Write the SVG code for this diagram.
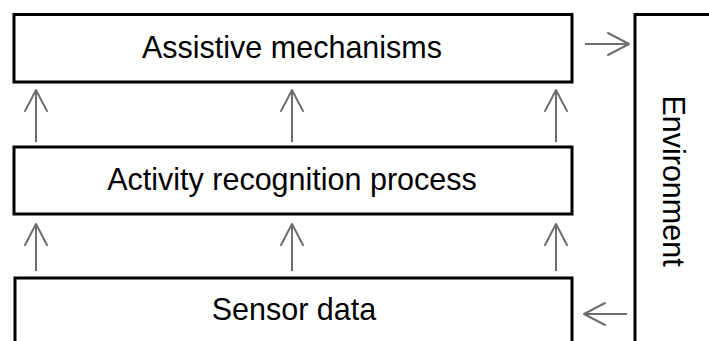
<svg xmlns="http://www.w3.org/2000/svg" width="709" height="341" viewBox="0 0 709 341">
<style>
.box{fill:#fff;stroke:#000;stroke-width:3}
.lbl{font-family:"Liberation Sans",Arial,sans-serif;font-size:30.5px;fill:#000;text-anchor:middle}
.arr{stroke:#6e6e6e;stroke-width:2;fill:none;marker-end:url(#ah)}
</style>
<defs>
<marker id="ah" markerUnits="userSpaceOnUse" viewBox="-23 -13 25 26" markerWidth="25" markerHeight="26" refX="0" refY="0" orient="auto" overflow="visible">
<path d="M-21,-11 L0,0 L-21,11" fill="none" stroke="#6e6e6e" stroke-width="2" stroke-linecap="round" stroke-linejoin="round"/>
</marker>
</defs>
<rect width="709" height="341" fill="#fff"/>
<g id="assistive">
<rect class="box" x="14" y="14.5" width="558" height="67.5"/>
<text class="lbl" x="292" y="58">Assistive mechanisms</text>
</g>
<g id="activity">
<rect class="box" x="14" y="147" width="558" height="67"/>
<text class="lbl" x="292" y="190">Activity recognition process</text>
</g>
<g id="sensor">
<rect class="box" x="15" y="278" width="557" height="80"/>
<text class="lbl" x="294" y="320">Sensor data</text>
</g>
<g id="environment">
<rect class="box" x="635" y="14.5" width="90" height="345"/>
<text class="lbl" transform="translate(663,181) rotate(90)" x="0" y="0">Environment</text>
</g>
<g id="connectors">
<line class="arr" x1="36" y1="142" x2="36" y2="90"/>
<line class="arr" x1="292" y1="142" x2="292" y2="90"/>
<line class="arr" x1="556" y1="142" x2="556" y2="90"/>
<line class="arr" x1="36" y1="271" x2="36" y2="224"/>
<line class="arr" x1="292" y1="271" x2="292" y2="224"/>
<line class="arr" x1="556" y1="271" x2="556" y2="224"/>
<line class="arr" x1="585" y1="44" x2="629" y2="44"/>
<line class="arr" x1="627" y1="314" x2="584" y2="314"/>
</g>
</svg>
